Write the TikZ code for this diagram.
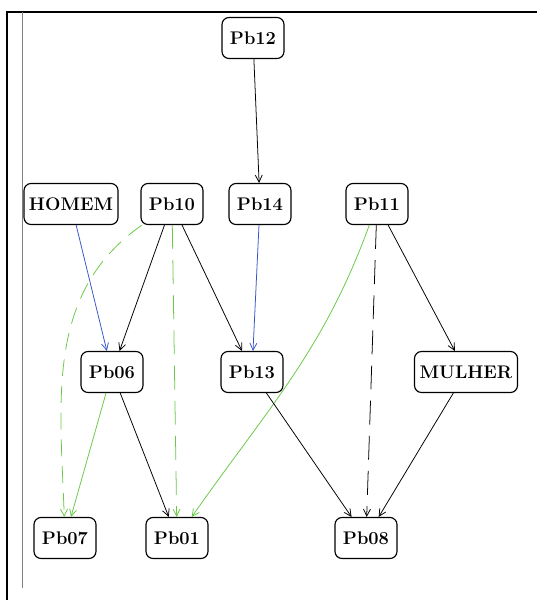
\documentclass[tikz,border=0pt]{standalone}
\usepackage{tikz}
\usetikzlibrary{arrows.meta,calc,positioning}
\definecolor{edgeblue}{RGB}{55,85,200}
\definecolor{edgegreen}{RGB}{105,200,70}

\begin{document}
\begin{tikzpicture}[
  pbbox/.style={draw,line width=0.8pt,rounded corners=5pt,minimum width=1.55cm,minimum height=1.025cm,
    inner sep=1pt,font=\fontsize{13}{15}\selectfont\bfseries},
  wbox/.style={pbbox,minimum width=2.35cm},
  >={Straight Barb[length=5pt,width=5pt]},
  blk/.style={->,line width=0.55pt,black},
  blu/.style={->,line width=0.55pt,edgeblue},
  grn/.style={->,line width=0.55pt,edgegreen},
  longdash/.style={dash pattern=on 17pt off 8pt},
]
\useasboundingbox (0,0) rectangle (13.425,-15);
% frame
\draw[line width=1.4pt] (0.175,-15) -- (0.175,-0.3) -- (13.425,-0.3);
\draw[gray,line width=0.5pt] (0.55,-0.3) -- (0.55,-14.7);

\node[pbbox] (pb12) at (6.325,-0.95) {Pb12};
\node[wbox] (homem) at (1.775,-5.1) {HOMEM};
\node[pbbox] (pb10) at (4.3,-5.1) {Pb10};
\node[pbbox] (pb14) at (6.5,-5.1) {Pb14};
\node[pbbox] (pb11) at (9.425,-5.1) {Pb11};
\node[pbbox] (pb06) at (2.8,-9.3) {Pb06};
\node[pbbox] (pb13) at (6.3,-9.3) {Pb13};
\node[wbox,minimum width=2.575cm] (mulher) at (11.65,-9.3) {MULHER};
\node[pbbox] (pb07) at (1.625,-13.45) {Pb07};
\node[pbbox] (pb01) at (4.425,-13.45) {Pb01};
\node[pbbox] (pb08) at (9.15,-13.45) {Pb08};

\draw[blk] (pb12) -- (pb14);
\draw[blu] (homem) -- (pb06);
\draw[blu] (pb14) -- (pb13);
\draw[blk] (pb10) -- (pb06);
\draw[blk] (pb10) -- (pb13);
\draw[grn,dash pattern=on 12pt off 7pt] (pb10) to[out=215,in=92] (pb07);
\draw[grn,longdash] (pb10) -- (pb01);
\draw[grn] (pb11) to[out=-110,in=55] (pb01);
\draw[blk,longdash] (pb11) -- (pb08);
\draw[blk] (pb11) -- (mulher);
\draw[grn] (pb06) -- (pb07);
\draw[blk] (pb06) -- (pb01);
\draw[blk] (pb13) -- (pb08);
\draw[blk] (mulher) -- (pb08);
\end{tikzpicture}
\end{document}
